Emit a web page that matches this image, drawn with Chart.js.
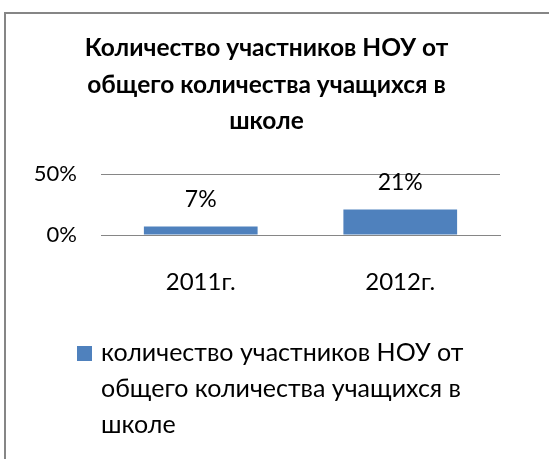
<!DOCTYPE html>
<html>
<head>
<meta charset="utf-8">
<script src="https://cdn.jsdelivr.net/npm/chart.js@4/dist/chart.umd.min.js"></script>
<style>
  html, body { margin:0; padding:0; background:#fff; }
  #wrap { position:relative; width:549px; height:459px; }
</style>
</head>
<body>
<div id="wrap"><canvas id="c" width="549" height="459"></canvas></div>
<script>
// данные диаграммы
const titleLines = ['Количество участников НОУ от', 'общего количества учащихся в', 'школе'];
const categories = ['2011г.', '2012г.'];
const seriesLabel = 'количество участников НОУ от общего количества учащихся в школе';
const seriesValues = [7, 21];
const yTicks = [0, 50];

const FONT = "Lato, 'Open Sans', sans-serif";
const BAR = '#4F81BD';
const GRID = '#868686';

// рамка, подписи значений и легенда рисуются вручную
const extras = {
  id: 'extras',
  beforeDraw(chart){
    const ctx = chart.ctx;
    ctx.save();
    ctx.strokeStyle = GRID;
    ctx.lineWidth = 2;
    ctx.strokeRect(5, 13, 700, 700);
    ctx.restore();
  },
  afterDatasetsDraw(chart){
    const ctx = chart.ctx;
    const meta = chart.getDatasetMeta(0);
    ctx.save();
    ctx.font = '23px ' + FONT;
    ctx.fillStyle = '#000';
    ctx.textAlign = 'center';
    ctx.textBaseline = 'middle';
    meta.data.forEach((bar, i) => {
      ctx.fillText(chart.data.datasets[0].data[i] + '%', bar.x, bar.y - 27);
    });
    ctx.restore();
  },
  afterDraw(chart){
    const ctx = chart.ctx;
    const ds = chart.data.datasets[0];
    const x0 = 77, y0 = 353, lh = 36, maxW = 380;
    ctx.save();
    ctx.font = '25px ' + FONT;
    ctx.fillStyle = ds.backgroundColor;
    ctx.fillRect(x0, y0 - 7, 15, 15);
    ctx.fillStyle = '#000';
    ctx.textAlign = 'left';
    ctx.textBaseline = 'middle';
    const words = ds.label.split(' ');
    let lines = [], cur = '';
    words.forEach(w => {
      const t = cur ? cur + ' ' + w : w;
      if (ctx.measureText(t).width > maxW && cur) { lines.push(cur); cur = w; } else cur = t;
    });
    if (cur) lines.push(cur);
    lines.forEach((l, i) => ctx.fillText(l, x0 + 24, y0 + i * lh));
    ctx.restore();
  }
};

new Chart(document.getElementById('c'), {
  type: 'bar',
  data: {
    labels: categories,
    datasets: [{ label: seriesLabel, data: seriesValues, backgroundColor: BAR, categoryPercentage: 0.57, barPercentage: 1 }]
  },
  options: {
    responsive: false, animation: false,
    layout: { padding: { left: 33, right: 49, top: 0, bottom: 164 } },
    plugins: {
      legend: { display: false },
      tooltip: { enabled: false },
      title: {
        display: true, text: titleLines, color: '#000',
        font: { family: FONT, size: 24.5, weight: 'bold', lineHeight: '36.5px' },
        padding: { top: 30, bottom: 34.5 }
      }
    },
    scales: {
      x: {
        grid: { display: false, drawTicks: false },
        border: { display: true, color: GRID, width: 1 },
        ticks: { color: '#000', font: { family: FONT, size: 24 }, padding: 33 },
        afterFit(s){ s.height = 60; }
      },
      y: {
        min: 0, max: 50,
        afterBuildTicks(s){ s.ticks = yTicks.map(v => ({ value: v })); },
        grid: { color: GRID, drawTicks: false },
        border: { display: false },
        ticks: { color: '#000', font: { family: FONT, size: 22 }, padding: 24, callback: v => v + '%' },
        afterFit(s){ s.width = 68; }
      }
    }
  },
  plugins: [extras]
});
</script>
</body>
</html>
